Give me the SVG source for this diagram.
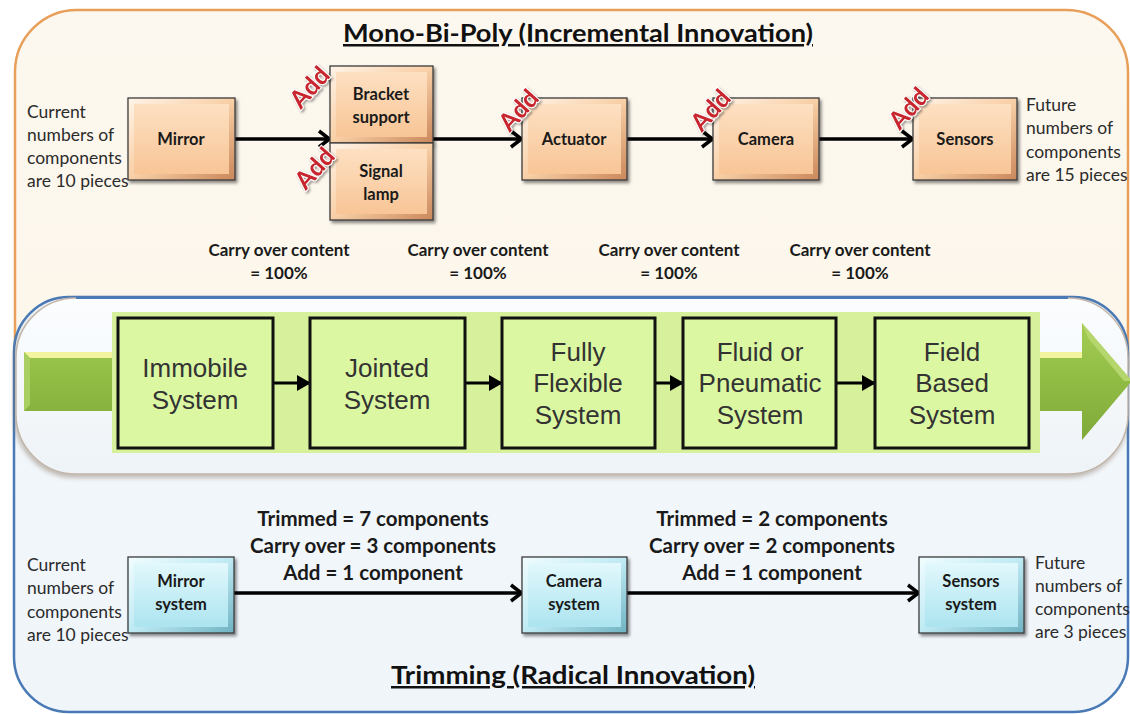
<svg xmlns="http://www.w3.org/2000/svg" width="1130" height="714" viewBox="0 0 1130 714">
  <style>
    .side { font-family: Lato, "Open Sans", "Liberation Sans", sans-serif; font-size: 17.5px; fill: #2b2b2b; }
    .lbl { font-family: Lato, "Open Sans", "Liberation Sans", sans-serif; font-size: 16.5px; font-weight: bold; fill: #1a1a1a; text-anchor: middle; }
    .carry { font-family: Lato, "Open Sans", "Liberation Sans", sans-serif; font-size: 17px; font-weight: bold; fill: #1a1a1a; text-anchor: middle; }
    .trim { font-family: Lato, "Open Sans", "Liberation Sans", sans-serif; font-size: 20.5px; font-weight: bold; fill: #1a1a1a; text-anchor: middle; }
    .title { font-family: Lato, "Open Sans", "Liberation Sans", sans-serif; font-size: 25px; font-weight: bold; fill: #111; text-anchor: middle; text-decoration: underline; }
    .stage { font-family: "Liberation Sans", Arial, sans-serif; font-size: 26px; fill: #333; text-anchor: middle; }
    .add { font-family: Lato, "Open Sans", "Liberation Sans", sans-serif; font-size: 25px; font-weight: bold; fill: #c8262d; stroke: #ffffff; stroke-width: 2px; paint-order: stroke; text-anchor: middle; }
    .obox { fill: url(#peachEdge); stroke: #3c3c3c; stroke-width: 1.3; filter: url(#shadow); }
    .oface { fill: url(#peachFace); }
    .cbox { fill: url(#cyanEdge); stroke: #3c3c3c; stroke-width: 1.3; filter: url(#shadow); }
    .cface { fill: url(#cyanFace); }
    .gbox { fill: #dcf7a2; stroke: #111; stroke-width: 3; }
    .conn { stroke: #000; stroke-width: 3.5; fill: none; marker-end: url(#chev); }
    .sconn { stroke: #000; stroke-width: 3; fill: none; marker-end: url(#tri); }
  </style>
  <defs>
    <linearGradient id="peachEdge" x1="0" y1="0" x2="1" y2="1">
      <stop offset="0" stop-color="#fff4e8"/>
      <stop offset="0.5" stop-color="#f8cfa6"/>
      <stop offset="1" stop-color="#c9875a"/>
    </linearGradient>
    <linearGradient id="peachFace" x1="0" y1="0" x2="0" y2="1">
      <stop offset="0" stop-color="#fde0c2"/>
      <stop offset="1" stop-color="#f8c596"/>
    </linearGradient>
    <linearGradient id="cyanEdge" x1="0" y1="0" x2="1" y2="1">
      <stop offset="0" stop-color="#f2fdff"/>
      <stop offset="0.5" stop-color="#bfeaf3"/>
      <stop offset="1" stop-color="#6fb2c2"/>
    </linearGradient>
    <linearGradient id="cyanFace" x1="0" y1="0" x2="0" y2="1">
      <stop offset="0" stop-color="#e2f8fc"/>
      <stop offset="1" stop-color="#ace4f0"/>
    </linearGradient>
    <linearGradient id="orangePanel" x1="0" y1="0" x2="0" y2="1">
      <stop offset="0" stop-color="#fdf8ef"/>
      <stop offset="1" stop-color="#fcf6ea"/>
    </linearGradient>
    <linearGradient id="bluePanel" x1="0" y1="0" x2="0" y2="1">
      <stop offset="0" stop-color="#f3f8fc"/>
      <stop offset="1" stop-color="#f0f5fa"/>
    </linearGradient>
    <linearGradient id="pill" x1="0" y1="0" x2="0" y2="1">
      <stop offset="0" stop-color="#fbfdff"/>
      <stop offset="1" stop-color="#eef3f7"/>
    </linearGradient>
    <linearGradient id="greenArrow" x1="0" y1="0" x2="0" y2="1">
      <stop offset="0" stop-color="#a4cc55"/>
      <stop offset="0.5" stop-color="#90bc44"/>
      <stop offset="1" stop-color="#7fa93a"/>
    </linearGradient>
    <filter id="shadow" x="-10%" y="-10%" width="130%" height="130%">
      <feDropShadow dx="2" dy="2.5" stdDeviation="1.5" flood-color="#000" flood-opacity="0.45"/>
    </filter>
    <filter id="pillShadow" x="-5%" y="-10%" width="110%" height="130%">
      <feDropShadow dx="-1" dy="3" stdDeviation="2.5" flood-color="#7a6555" flood-opacity="0.45"/>
    </filter>
    <filter id="addShadow" x="-20%" y="-20%" width="140%" height="140%">
      <feDropShadow dx="1.5" dy="1.5" stdDeviation="1" flood-color="#000" flood-opacity="0.4"/>
    </filter>
    <marker id="chev" markerUnits="userSpaceOnUse" viewBox="0 0 16 20" markerWidth="16" markerHeight="20" refX="14" refY="10" orient="auto">
      <path d="M3,2 L13.5,10 L3,18" fill="none" stroke="#000" stroke-width="3.5"/>
    </marker>
    <marker id="tri" markerUnits="userSpaceOnUse" viewBox="0 0 14 16" markerWidth="14" markerHeight="16" refX="13" refY="8" orient="auto">
      <path d="M0,0 L14,8 L0,16 z" fill="#000"/>
    </marker>
  </defs>

  <!-- background panels -->
  <rect x="0" y="0" width="1130" height="714" fill="#ffffff"/>
  <rect id="panel-incremental" x="15" y="10" width="1113" height="420" rx="62" ry="62" fill="url(#orangePanel)" stroke="#e89f5a" stroke-width="2.5"/>
  <rect id="panel-radical" x="14" y="297" width="1114" height="415" rx="55" ry="55" fill="url(#bluePanel)" stroke="#4a7ab6" stroke-width="2.5"/>

  <!-- evolution band -->
  <g id="evolution-band">
    <rect x="16" y="298" width="1112" height="176" rx="60" ry="60" fill="url(#pill)" stroke="#c2b6aa" stroke-width="1.5" filter="url(#pillShadow)"/>
    <path d="M76,298 H1068" stroke="#4a7ab6" stroke-width="2" fill="none"/>
    <polygon points="24,352 1082,352 1082,323 1132,381 1082,440 1082,411 24,411" fill="url(#greenArrow)"/>
    <polygon points="24,352 1082,352 1082,358 30,358" fill="#f2f59e"/>
    <polygon points="24,352 30,358 30,405 24,411" fill="#a9cf62"/>
    <polygon points="1082,323 1132,381 1124,381 1088,338" fill="#b5d66c"/>
    <rect x="112" y="312" width="928" height="141" fill="#d6f09c"/>
  </g>

  <!-- titles -->
  <text class="title" x="578" y="42" textLength="470" lengthAdjust="spacingAndGlyphs">Mono-Bi-Poly (Incremental Innovation)</text>
  <text class="title" x="573" y="684" textLength="364" lengthAdjust="spacingAndGlyphs">Trimming (Radical Innovation)</text>

  <!-- side notes -->
  <text class="side" x="27" y="118">Current</text>
  <text class="side" x="27" y="141">numbers of</text>
  <text class="side" x="27" y="164">components</text>
  <text class="side" x="27" y="187">are 10 pieces</text>
  <text class="side" x="1026" y="111">Future</text>
  <text class="side" x="1026" y="134">numbers of</text>
  <text class="side" x="1026" y="158">components</text>
  <text class="side" x="1026" y="181">are 15 pieces</text>
  <text class="side" x="27" y="571">Current</text>
  <text class="side" x="27" y="594">numbers of</text>
  <text class="side" x="27" y="618">components</text>
  <text class="side" x="27" y="641">are 10 pieces</text>
  <text class="side" x="1035" y="569">Future</text>
  <text class="side" x="1035" y="592">numbers of</text>
  <text class="side" x="1035" y="615">components</text>
  <text class="side" x="1035" y="638">are 3 pieces</text>

  <!-- connectors -->
  <g id="connectors">
    <path class="conn" d="M235,139 H330"/>
    <path class="conn" d="M433,139 H522"/>
    <path class="conn" d="M627,139 H713"/>
    <path class="conn" d="M819,139 H913"/>
    <path class="sconn" d="M273,383 H310"/>
    <path class="sconn" d="M465,383 H502"/>
    <path class="sconn" d="M655,383 H683"/>
    <path class="sconn" d="M836,383 H875"/>
    <path class="conn" stroke-width="3" d="M234,593 H522"/>
    <path class="conn" stroke-width="3" d="M627,593 H919"/>
  </g>

  <!-- carry-over notes -->
  <g id="carry-notes">
    <text class="carry" x="279" y="256">Carry over content</text>
    <text class="carry" x="279" y="279">= 100%</text>
    <text class="carry" x="478" y="256">Carry over content</text>
    <text class="carry" x="478" y="279">= 100%</text>
    <text class="carry" x="669" y="256">Carry over content</text>
    <text class="carry" x="669" y="279">= 100%</text>
    <text class="carry" x="860" y="256">Carry over content</text>
    <text class="carry" x="860" y="279">= 100%</text>
  </g>

  <!-- incremental chain -->
  <g id="node-mirror">
    <rect class="obox" x="128" y="98" width="107" height="82"/>
    <rect class="oface" x="134" y="104" width="95" height="70"/>
    <text class="lbl" x="181" y="145">Mirror</text>
  </g>
  <g id="node-bracket">
    <rect class="obox" x="330" y="66" width="103" height="77"/>
    <rect class="oface" x="336" y="72" width="91" height="65"/>
    <text class="lbl" x="381" y="100">Bracket</text>
    <text class="lbl" x="381" y="123">support</text>
  </g>
  <g id="node-signal-lamp">
    <rect class="obox" x="330" y="143" width="103" height="77"/>
    <rect class="oface" x="336" y="149" width="91" height="65"/>
    <text class="lbl" x="381" y="177">Signal</text>
    <text class="lbl" x="381" y="200">lamp</text>
  </g>
  <g id="node-actuator">
    <rect class="obox" x="522" y="98" width="105" height="82"/>
    <rect class="oface" x="528" y="104" width="93" height="70"/>
    <text class="lbl" x="574" y="145">Actuator</text>
  </g>
  <g id="node-camera">
    <rect class="obox" x="713" y="98" width="106" height="82"/>
    <rect class="oface" x="719" y="104" width="94" height="70"/>
    <text class="lbl" x="766" y="145">Camera</text>
  </g>
  <g id="node-sensors">
    <rect class="obox" x="913" y="98" width="104" height="82"/>
    <rect class="oface" x="919" y="104" width="92" height="70"/>
    <text class="lbl" x="965" y="145">Sensors</text>
  </g>

  <!-- "Add" tags -->
  <g id="add-tags" filter="url(#addShadow)">
    <text class="add" transform="translate(316,93) rotate(-48)">Add</text>
    <text class="add" transform="translate(321,174) rotate(-48)">Add</text>
    <text class="add" transform="translate(525,116) rotate(-48)">Add</text>
    <text class="add" transform="translate(717,116) rotate(-48)">Add</text>
    <text class="add" transform="translate(915,114) rotate(-48)">Add</text>
  </g>

  <!-- evolution stages -->
  <g id="stage-immobile">
    <rect class="gbox" x="118" y="318" width="155" height="130"/>
    <text class="stage" x="195" y="377">Immobile</text>
    <text class="stage" x="195" y="409">System</text>
  </g>
  <g id="stage-jointed">
    <rect class="gbox" x="310" y="318" width="155" height="130"/>
    <text class="stage" x="387" y="377">Jointed</text>
    <text class="stage" x="387" y="409">System</text>
  </g>
  <g id="stage-flexible">
    <rect class="gbox" x="502" y="318" width="153" height="130"/>
    <text class="stage" x="578" y="361">Fully</text>
    <text class="stage" x="578" y="392">Flexible</text>
    <text class="stage" x="578" y="424">System</text>
  </g>
  <g id="stage-fluid">
    <rect class="gbox" x="683" y="318" width="153" height="130"/>
    <text class="stage" x="760" y="361">Fluid or</text>
    <text class="stage" x="760" y="392">Pneumatic</text>
    <text class="stage" x="760" y="424">System</text>
  </g>
  <g id="stage-field">
    <rect class="gbox" x="875" y="318" width="154" height="130"/>
    <text class="stage" x="952" y="361">Field</text>
    <text class="stage" x="952" y="392">Based</text>
    <text class="stage" x="952" y="424">System</text>
  </g>

  <!-- trimming chain -->
  <g id="trim-notes">
    <text class="trim" x="373" y="526">Trimmed = 7 components</text>
    <text class="trim" x="373" y="553">Carry over = 3 components</text>
    <text class="trim" x="373" y="580">Add = 1 component</text>
    <text class="trim" x="772" y="526">Trimmed = 2 components</text>
    <text class="trim" x="772" y="553">Carry over = 2 components</text>
    <text class="trim" x="772" y="580">Add = 1 component</text>
  </g>
  <g id="node-mirror-system">
    <rect class="cbox" x="128" y="557" width="106" height="76"/>
    <rect class="cface" x="134" y="563" width="94" height="64"/>
    <text class="lbl" x="181" y="587">Mirror</text>
    <text class="lbl" x="181" y="610">system</text>
  </g>
  <g id="node-camera-system">
    <rect class="cbox" x="522" y="557" width="105" height="76"/>
    <rect class="cface" x="528" y="563" width="93" height="64"/>
    <text class="lbl" x="574" y="587" font-size="15">Camera</text>
    <text class="lbl" x="574" y="610" font-size="15">system</text>
  </g>
  <g id="node-sensors-system">
    <rect class="cbox" x="919" y="557" width="105" height="76"/>
    <rect class="cface" x="925" y="563" width="93" height="64"/>
    <text class="lbl" x="971" y="587" font-size="15.5">Sensors</text>
    <text class="lbl" x="971" y="610" font-size="15.5">system</text>
  </g>
</svg>
